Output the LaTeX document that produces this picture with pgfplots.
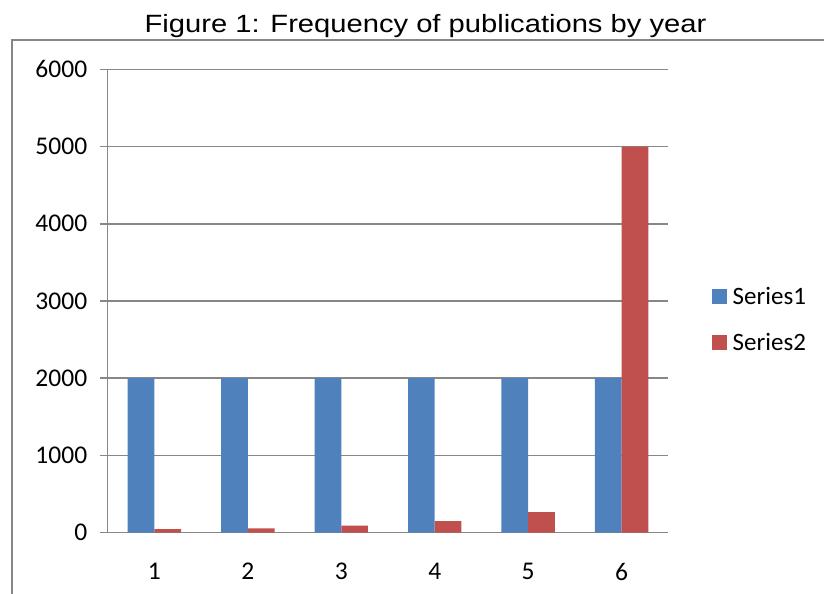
\documentclass[border=0pt]{standalone}
\usepackage{fontspec}
\setmainfont{Carlito}
\newfontfamily\titlefont{Liberation Sans}
\usepackage{graphicx}
\usepackage{pgfplots}
\pgfplotsset{compat=1.18}
\definecolor{sblue}{HTML}{4F81BD}
\definecolor{sred}{HTML}{C0504D}
\definecolor{agray}{HTML}{878787}
\begin{document}
\begin{tikzpicture}[x=1bp,y=1bp]
\useasboundingbox (0,0) rectangle (824,594);
\draw[agray, line width=2bp] (12,-10) -- (12,554) -- (840,554);
\node[anchor=base, inner sep=0pt, font=\titlefont\fontsize{25bp}{29bp}\selectfont] at (425.5,561) {\scalebox{1.166}[1]{Figure 1: Frequency of publications by year}};
\begin{axis}[
  at={(107.7bp,61.3bp)}, anchor=south west,
  scale only axis, width=560.6bp, height=463.4bp,
  xmin=0.5, xmax=6.5, ymin=0, ymax=6000,
  enlargelimits=false,
  axis x line=bottom, axis y line=left,
  axis line style={-, agray, line width=1.5bp},
  ymajorgrids, grid style={agray, line width=1.5bp},
  xtick={1,2,3,4,5,6},
  minor xtick={0.5,1.5,2.5,3.5,4.5,5.5,6.5},
  ytick={0,1000,2000,3000,4000,5000,6000},
  tick align=outside,
  major tick length=8bp, minor tick length=8bp,
  xtick style={draw=none},
  minor tick style={agray, line width=1.5bp},
  ytick style={agray, line width=1.5bp},
  tick label style={font=\fontsize{25.5bp}{30bp}\selectfont},
  /pgf/number format/assume math mode=true,
  /pgf/number format/1000 sep={},
  xticklabel style={yshift=-19bp},
  yticklabel style={xshift=-9bp},
  ybar=0pt, bar width=26.7bp,
  legend style={at={(axis description cs:1.078,0.46)}, anchor=west, draw=none, fill=none,
    font=\fontsize{25bp}{30bp}\selectfont, row sep=23bp, inner sep=0pt},
  legend cell align=left,
  legend image code/.code={\fill[#1] (0bp,-7.5bp) rectangle (14.5bp,7.5bp); \path (18.5bp,0bp);},
]
\addplot[fill=sblue, draw=none] coordinates {(1,2000) (2,2000) (3,2000) (4,2000) (5,2000) (6,2000)};
\addlegendentry{Series1}
\addplot[fill=sred, draw=none] coordinates {(1,45) (2,55) (3,90) (4,150) (5,265) (6,5000)};
\addlegendentry{Series2}
\end{axis}
\end{tikzpicture}
\end{document}
